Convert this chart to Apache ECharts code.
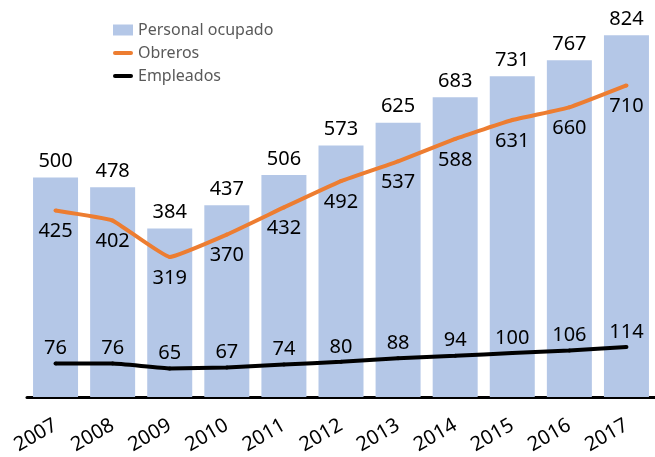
<!DOCTYPE html>
<html>
<head>
<meta charset="utf-8">
<script src="https://cdn.jsdelivr.net/npm/echarts@6/dist/echarts.min.js"></script>
<style>
  html, body { margin: 0; padding: 0; background: #fff; }
  #chart { width: 655px; height: 457px; }
</style>
</head>
<body>
<div id="chart"></div>
<script>
  // datos
  const years = ['2007', '2008', '2009', '2010', '2011', '2012', '2013', '2014', '2015', '2016', '2017']
  const personalOcupado = [500, 478, 384, 437, 506, 573, 625, 683, 731, 767, 824]
  const obreros = [425, 402, 319, 370, 432, 492, 537, 588, 631, 660, 710]
  const empleados = [76, 76, 65, 67, 74, 80, 88, 94, 100, 106, 114]

  const font = '"Noto Sans", "Open Sans", sans-serif'
  // icono de leyenda para las líneas: barra horizontal fina
  const lineIcon = 'path://M2,0 H18 A2,2 0 0 1 18,4 H2 A2,2 0 0 1 2,0 Z'

  const chart = echarts.init(document.getElementById('chart'))

  chart.setOption({
    animation: false,
    grid: { left: 27, right: -7, top: 2, bottom: 60, containLabel: false },
    legend: {
      orient: 'vertical',
      left: 108,
      top: 17,
      itemWidth: 20,
      itemHeight: 11,
      itemGap: 7,
      textStyle: { color: '#595959', fontSize: 16, fontFamily: font },
      data: [
        { name: 'Personal ocupado', icon: 'rect' },
        { name: 'Obreros', icon: lineIcon },
        { name: 'Empleados', icon: lineIcon }
      ]
    },
    xAxis: {
      type: 'category',
      data: years,
      axisLine: { lineStyle: { color: '#000', width: 3 } },
      axisTick: { show: false },
      axisLabel: {
        rotate: 30,
        margin: 27,
        color: '#000',
        fontSize: 20,
        fontFamily: font
      }
    },
    yAxis: {
      type: 'value',
      min: 0,
      max: 900,
      show: false,
      splitLine: { show: false }
    },
    series: [
      {
        name: 'Personal ocupado',
        type: 'bar',
        data: personalOcupado,
        barWidth: 45,
        itemStyle: { color: '#B4C7E7' },
        label: {
          show: true,
          position: 'top',
          distance: 6,
          color: '#000',
          fontSize: 20,
          fontFamily: font
        }
      },
      {
        name: 'Obreros',
        type: 'line',
        data: obreros,
        smooth: 0.1,
        symbol: 'circle',
        symbolSize: 4,
        showSymbol: true,
        lineStyle: { color: '#ED7D31', width: 4 },
        itemStyle: { color: '#ED7D31' },
        label: {
          show: true,
          position: 'bottom',
          distance: 9,
          color: '#000',
          fontSize: 20,
          fontFamily: font
        }
      },
      {
        name: 'Empleados',
        type: 'line',
        data: empleados,
        smooth: 0.1,
        symbol: 'circle',
        symbolSize: 4,
        showSymbol: true,
        lineStyle: { color: '#000', width: 4 },
        itemStyle: { color: '#000' },
        label: {
          show: true,
          position: 'top',
          distance: 3,
          color: '#000',
          fontSize: 20,
          fontFamily: font
        }
      }
    ]
  })
</script>
</body>
</html>
